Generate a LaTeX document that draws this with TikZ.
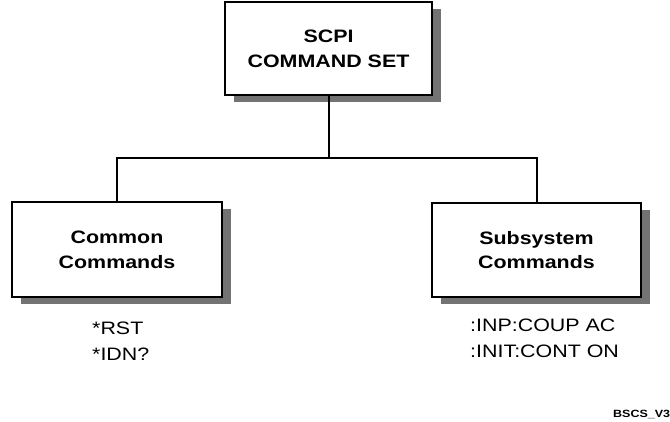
\documentclass[tikz,border=0pt]{standalone}
\usepackage{fontspec}
\setmainfont{Liberation Sans}
\newfontfamily\chartfont[FakeStretch=1.19]{Liberation Sans}
\usetikzlibrary{positioning, shadows}

\begin{document}
\begin{tikzpicture}[x=1pt, y=1pt,
    CmdBox/.style={draw, line width=2pt, fill=white, align=center,
                inner sep=0pt, outer sep=0pt,
                font=\chartfont\bfseries\fontsize{18}{24.5}\selectfont,
                drop shadow={shadow xshift=9pt, shadow yshift=-7pt,
                             fill=black!55, opacity=1}},
    CmdText/.style={anchor=base west, inner sep=0pt,
                font=\chartfont\fontsize{18}{21}\selectfont},
    Link/.style={line width=2pt},
  ]
\useasboundingbox (0,0) rectangle (670,421);

% the three boxes
\node[CmdBox, minimum width=207pt, minimum height=93pt] (SetBox) at (328.5,372)
  {SCPI\\COMMAND SET};
\node[CmdBox, minimum width=210pt, minimum height=95pt] (CommonBox) at (117,171)
  {Common\\Commands};
\node[CmdBox, minimum width=209pt, minimum height=94pt] (SubsysBox) at (536.5,171)
  {Subsystem\\Commands};

% tree lines
\coordinate (Fork) at (SetBox.south |- 0,263);
\draw[Link] (SetBox.south) -- (Fork) -| (CommonBox.north);
\draw[Link] (Fork) -| (SubsysBox.north);

% examples under the boxes
\node[CmdText] (RstCmd) at (92,86) {*RST};
\node[CmdText] (IdnCmd) at (92,61) {*IDN?};
\node[CmdText] (InpCmd) at (470,89) {:INP:COUP AC};
\node[CmdText] (InitCmd) at (470,64) {:INIT:CONT ON};

\node[anchor=base west, inner sep=0pt, font=\chartfont\bfseries\fontsize{10.5}{12}\selectfont]
  (FigTag) at (613,4) {BSCS\_V3};
\end{tikzpicture}
\end{document}
